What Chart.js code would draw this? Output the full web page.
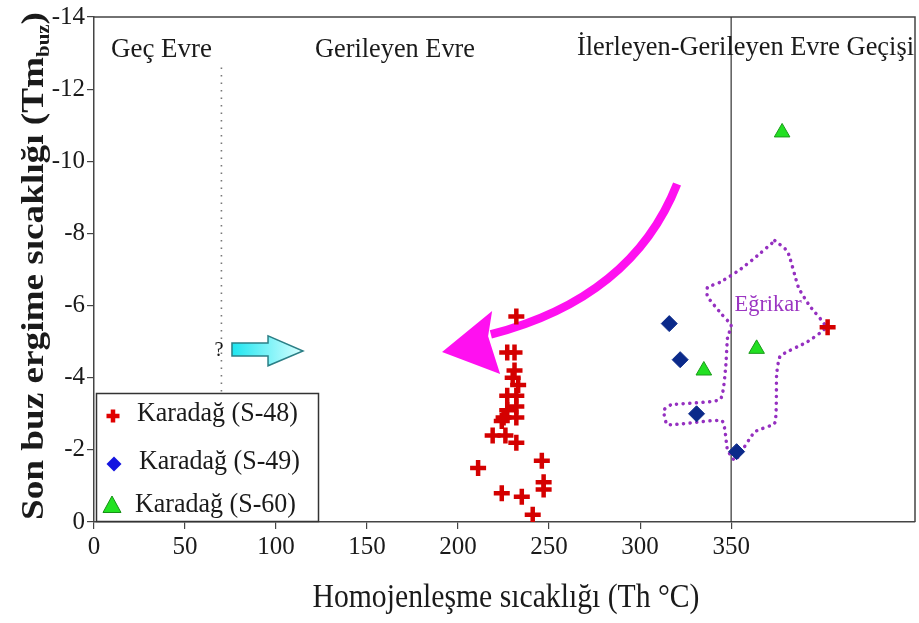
<!DOCTYPE html>
<html>
<head>
<meta charset="utf-8">
<script src="https://cdn.jsdelivr.net/npm/chart.js@4.4.0/dist/chart.umd.min.js"></script>
<style>
html, body { margin: 0; padding: 0; background: #fff; }
#wrap { width: 919px; height: 623px; }
</style>
</head>
<body>
<div id="wrap"><canvas id="inclusionChart" width="919" height="623"></canvas></div>
<script>
// series labels
const seriesNames = ['Karadağ (S-48)', 'Karadağ (S-49)', 'Karadağ (S-60)'];

// Karadağ S-48 (Th °C, Tm buz)
const s48Th = [232, 227, 231, 231, 230, 233, 227, 232, 232, 227, 225, 232, 224, 219, 226, 232, 246, 211, 247, 247, 224, 235, 241, 403];
const s48Tm = [-5.7, -4.7, -4.7, -4.2, -4.0, -3.8, -3.5, -3.5, -3.2, -3.1, -2.9, -2.9, -2.8, -2.4, -2.4, -2.2, -1.7, -1.5, -1.1, -0.9, -0.8, -0.7, -0.2, -5.4];

// Karadağ S-49
const s49Th = [316, 322, 331, 353];
const s49Tm = [-5.5, -4.5, -3.0, -1.95];

// Karadağ S-60
const s60Th = [378, 364, 335];
const s60Tm = [-10.8, -4.8, -4.2];

// Eğrikar field outline
const egrikarTh = [374, 381, 387, 393, 402, 392, 377, 375, 374, 363, 355, 352, 348, 345, 315, 313, 317, 344, 347, 348, 350, 345, 337, 337, 344, 355, 366, 374];
const egrikarTm = [-7.8, -7.5, -6.5, -6.0, -5.4, -5.0, -4.6, -4.1, -2.75, -2.5, -1.9, -1.7, -2.0, -2.8, -2.7, -3.1, -3.25, -3.4, -4.3, -5.1, -5.45, -5.75, -6.25, -6.5, -6.65, -7.0, -7.45, -7.8];

// phase boundaries
const boundaryTh = [70, 350];

const xTicks = [0, 50, 100, 150, 200, 250, 300, 350];
const yTicks = [-14, -12, -10, -8, -6, -4, -2, 0];

const zip = (xs, ys) => xs.map((x, i) => ({ x: x, y: ys[i] }));
const serif = '"Liberation Serif", "DejaVu Serif", serif';

function fitText(ctx, text, x, y, size, width, align, weight) {
    ctx.save();
    ctx.font = (weight || '') + ' ' + size + 'px ' + serif;
    const w = ctx.measureText(text).width;
    ctx.translate(x, y);
    ctx.scale(width / w, 1);
    ctx.textAlign = align || 'center';
    ctx.textBaseline = 'middle';
    ctx.fillText(text, 0, 0);
    ctx.restore();
}

function drawMarker(ctx, style, x, y, r) {
    ctx.beginPath();
    if (style === 'cross') {
        ctx.moveTo(x - r, y); ctx.lineTo(x + r, y);
        ctx.moveTo(x, y - r); ctx.lineTo(x, y + r);
        ctx.stroke();
    } else if (style === 'diamond') {
        ctx.moveTo(x, y - r); ctx.lineTo(x + r, y); ctx.lineTo(x, y + r); ctx.lineTo(x - r, y);
        ctx.closePath(); ctx.fill();
    } else {
        ctx.moveTo(x, y - r); ctx.lineTo(x + r * 0.9, y + r * 0.65); ctx.lineTo(x - r * 0.9, y + r * 0.65);
        ctx.closePath(); ctx.fill(); ctx.stroke();
    }
}

const decor = {
    id: 'decor',
    beforeDatasetsDraw(chart) {
        const ctx = chart.ctx, a = chart.chartArea;
        const sx = chart.scales.x, sy = chart.scales.y;
        const px = v => sx.getPixelForValue(v), py = v => sy.getPixelForValue(v);
        ctx.save();
        // frame top / right
        ctx.strokeStyle = '#444';
        ctx.lineWidth = 1.5;
        ctx.beginPath();
        ctx.moveTo(a.left, a.top); ctx.lineTo(a.right, a.top); ctx.lineTo(a.right, a.bottom);
        ctx.stroke();

        // magenta curved arrow
        ctx.strokeStyle = '#ff10f0';
        ctx.fillStyle = '#ff10f0';
        ctx.lineWidth = 8.5;
        ctx.beginPath();
        ctx.moveTo(px(320.3), py(-9.37));
        ctx.quadraticCurveTo(px(295.6), py(-6.21), px(218), py(-5.2));
        ctx.stroke();
        ctx.beginPath();
        ctx.moveTo(px(191.2), py(-4.71));
        ctx.lineTo(px(218.7), py(-5.85));
        ctx.lineTo(px(216.5), py(-5.15));
        ctx.lineTo(px(223.1), py(-4.1));
        ctx.closePath();
        ctx.fill();

        // cyan block arrow
        const g = ctx.createLinearGradient(px(75.8), 0, px(114.8), 0);
        g.addColorStop(0, '#1ee6f0');
        g.addColorStop(1, '#d8ffff');
        ctx.fillStyle = g;
        ctx.strokeStyle = '#2c7f86';
        ctx.lineWidth = 1.5;
        ctx.beginPath();
        ctx.moveTo(px(75.8), py(-4.96));
        ctx.lineTo(px(95.6), py(-4.96));
        ctx.lineTo(px(95.6), py(-5.16));
        ctx.lineTo(px(114.8), py(-4.74));
        ctx.lineTo(px(95.6), py(-4.33));
        ctx.lineTo(px(95.6), py(-4.6));
        ctx.lineTo(px(75.8), py(-4.6));
        ctx.closePath();
        ctx.fill();
        ctx.stroke();
        ctx.restore();
    },
    afterDatasetsDraw(chart) {
        const ctx = chart.ctx;
        const sx = chart.scales.x, sy = chart.scales.y;
        ctx.save();
        ctx.fillStyle = '#1a1a1a';
        // phase labels
        fitText(ctx, 'Geç Evre', 111, 50, 28, 101, 'left');
        fitText(ctx, 'Gerileyen Evre', 315, 50, 28, 160, 'left');
        fitText(ctx, 'İlerleyen-Gerileyen Evre Geçişi', 577, 48, 28, 337, 'left');
        fitText(ctx, '?', sx.getPixelForValue(68.7), sy.getPixelForValue(-4.77), 22, 9, 'center');

        ctx.fillStyle = '#9b35c2';
        fitText(ctx, 'Eğrikar', sx.getPixelForValue(370.3), sy.getPixelForValue(-6.02), 24, 67, 'center');

        // legend box
        ctx.fillStyle = '#fff';
        ctx.fillRect(96, 393, 223, 129);
        ctx.strokeStyle = '#333';
        ctx.lineWidth = 1.5;
        ctx.strokeRect(96.5, 393.5, 222, 128);

        ctx.strokeStyle = '#e00000'; ctx.lineWidth = 4.5;
        drawMarker(ctx, 'cross', 113, 416, 6.5);
        ctx.fillStyle = '#1414e0';
        drawMarker(ctx, 'diamond', 114, 464, 7.5);
        ctx.fillStyle = '#22e222'; ctx.strokeStyle = '#169016'; ctx.lineWidth = 1;
        drawMarker(ctx, 'triangle', 112, 506, 10);

        ctx.fillStyle = '#1a1a1a';
        fitText(ctx, seriesNames[0], 137, 414, 28, 161, 'left');
        fitText(ctx, seriesNames[1], 139, 462, 28, 161, 'left');
        fitText(ctx, seriesNames[2], 135, 505, 28, 161, 'left');

        // axis titles
        fitText(ctx, 'Homojenleşme sıcaklığı (Th °C)', 506, 598, 34, 387, 'center');

        const t1 = 'Son buz ergime sıcaklığı (Tm', t2 = 'buz', t3 = ')';
        ctx.font = 'bold 32px ' + serif;
        const w1 = ctx.measureText(t1).width, w3 = ctx.measureText(t3).width;
        ctx.font = 'bold 18px ' + serif;
        const w2 = ctx.measureText(t2).width;
        const total = w1 + w2 + w3, scaleX = 508 / total;
        ctx.translate(32, 266);
        ctx.rotate(-Math.PI / 2);
        ctx.scale(scaleX, 1);
        ctx.textBaseline = 'alphabetic';
        ctx.textAlign = 'left';
        const x0 = -total / 2, base = 11;
        ctx.font = 'bold 32px ' + serif;
        ctx.fillText(t1, x0, base);
        ctx.font = 'bold 18px ' + serif;
        ctx.fillText(t2, x0 + w1, base + 6);
        ctx.font = 'bold 32px ' + serif;
        ctx.fillText(t3, x0 + w1 + w2, base);
        ctx.restore();
    }
};

const tickFont = { family: serif, size: 25 };

new Chart(document.getElementById('inclusionChart'), {
    type: 'scatter',
    data: {
        datasets: [
            {
                label: seriesNames[0],
                data: zip(s48Th, s48Tm),
                pointStyle: 'cross',
                pointRadius: 8,
                pointBorderWidth: 4.5,
                borderColor: '#d40000',
                backgroundColor: '#d40000',
                order: 1
            },
            {
                label: seriesNames[1],
                data: zip(s49Th, s49Tm),
                pointStyle: 'rectRot',
                pointRadius: 8,
                pointBorderWidth: 1,
                borderColor: '#0b2a8a',
                backgroundColor: '#0b2a8a',
                order: 1
            },
            {
                label: seriesNames[2],
                data: zip(s60Th, s60Tm),
                pointStyle: 'triangle',
                pointRadius: 9,
                pointBorderWidth: 1,
                borderColor: '#1a9a1a',
                backgroundColor: '#22e022',
                order: 1
            },
            {
                label: 'Eğrikar',
                data: zip(egrikarTh, egrikarTm),
                showLine: true,
                tension: 0.15,
                pointRadius: 0,
                borderColor: '#9530c0',
                borderWidth: 3.5,
                borderDash: [0.1, 6.5],
                borderCapStyle: 'round',
                fill: false,
                order: 5
            },
            {
                label: 'b350',
                data: [{ x: boundaryTh[1], y: -14 }, { x: boundaryTh[1], y: 0 }],
                showLine: true,
                pointRadius: 0,
                borderColor: '#333',
                borderWidth: 1.2,
                order: 6
            },
            {
                label: 'b70',
                data: [{ x: boundaryTh[0], y: -12.6 }, { x: boundaryTh[0], y: -3.6 }],
                showLine: true,
                pointRadius: 0,
                borderColor: '#777',
                borderWidth: 1.6,
                borderDash: [1.5, 6],
                order: 6
            }
        ]
    },
    options: {
        responsive: false,
        animation: false,
        devicePixelRatio: 1,
        layout: { autoPadding: false, padding: { top: 17, right: 4, left: 0, bottom: 0 } },
        plugins: {
            legend: { display: false },
            tooltip: { enabled: false }
        },
        scales: {
            x: {
                type: 'linear',
                min: 0,
                max: 451,
                afterBuildTicks: s => { s.ticks = xTicks.map(v => ({ value: v })); },
                afterFit: s => { s.height = 101; s.paddingLeft = 0; s.paddingRight = 0; },
                grid: { drawOnChartArea: false, drawTicks: true, tickLength: 7, color: '#444', lineWidth: 1.2 },
                border: { color: '#444', width: 1.5 },
                ticks: { font: tickFont, color: '#1a1a1a', padding: 3, maxRotation: 0 }
            },
            y: {
                type: 'linear',
                min: -14,
                max: 0,
                reverse: true,
                afterBuildTicks: s => { s.ticks = yTicks.map(v => ({ value: v })); },
                afterFit: s => { s.width = 94; s.paddingTop = 0; s.paddingBottom = 0; },
                grid: { drawOnChartArea: false, drawTicks: true, tickLength: 7, color: '#444', lineWidth: 1.2 },
                border: { color: '#444', width: 1.5 },
                ticks: { font: tickFont, color: '#1a1a1a', padding: 2 }
            }
        }
    },
    plugins: [decor]
});
</script>
</body>
</html>
